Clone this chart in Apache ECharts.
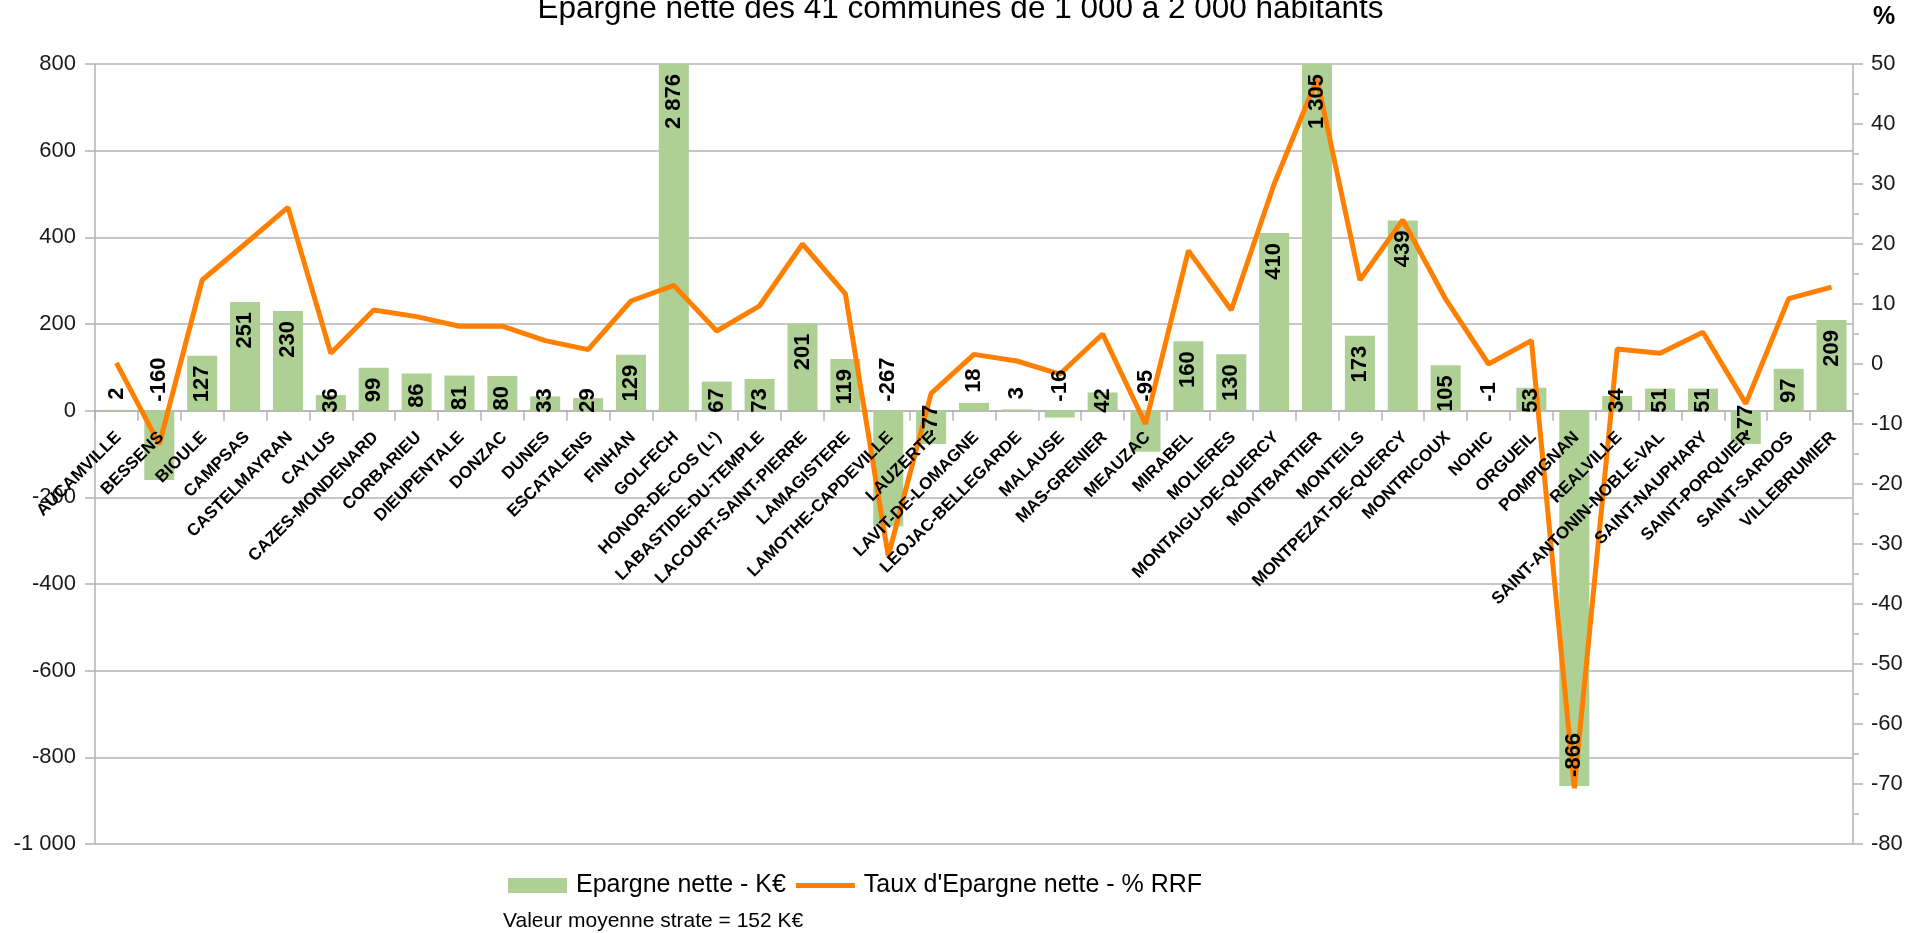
<!DOCTYPE html>
<html>
<head>
<meta charset="utf-8">
<title>Epargne nette des 41 communes</title>
<script src="https://cdn.jsdelivr.net/npm/echarts@6/dist/echarts.min.js"></script>
<style>
  html, body { margin: 0; padding: 0; background: #fff; }
  #chart { width: 1921px; height: 933px; }
</style>
</head>
<body>
<div id="chart"></div>
<script>
// communes (axe des catégories)
const communes = [
  'AUCAMVILLE', 'BESSENS', 'BIOULE', 'CAMPSAS', 'CASTELMAYRAN', 'CAYLUS',
  'CAZES-MONDENARD', 'CORBARIEU', 'DIEUPENTALE', 'DONZAC', 'DUNES', 'ESCATALENS',
  'FINHAN', 'GOLFECH', "HONOR-DE-COS (L')", 'LABASTIDE-DU-TEMPLE',
  'LACOURT-SAINT-PIERRE', 'LAMAGISTERE', 'LAMOTHE-CAPDEVILLE', 'LAUZERTE',
  'LAVIT-DE-LOMAGNE', 'LEOJAC-BELLEGARDE', 'MALAUSE', 'MAS-GRENIER', 'MEAUZAC',
  'MIRABEL', 'MOLIERES', 'MONTAIGU-DE-QUERCY', 'MONTBARTIER', 'MONTEILS',
  'MONTPEZAT-DE-QUERCY', 'MONTRICOUX', 'NOHIC', 'ORGUEIL', 'POMPIGNAN',
  'REALVILLE', 'SAINT-ANTONIN-NOBLE-VAL', 'SAINT-NAUPHARY', 'SAINT-PORQUIER',
  'SAINT-SARDOS', 'VILLEBRUMIER'
]

// Epargne nette - K€ (barres, axe gauche)
const epargneNette = [
  2, -160, 127, 251, 230, 36, 99, 86, 81, 80, 33, 29,
  129, 2876, 67, 73, 201, 119, -267, -77, 18, 3, -16, 42, -95,
  160, 130, 410, 1305, 173, 439, 105, -1, 53, -866,
  34, 51, 51, -77, 97, 209
]

// Taux d'Epargne nette - % RRF (courbe, axe droit)
const tauxEpargne = [
  0.2, -13.4, 14.0, 20.0, 26.1, 1.8, 9.0, 7.9, 6.3, 6.3, 3.9, 2.4,
  10.5, 13.1, 5.5, 9.7, 20.0, 11.7, -32.0, -4.9, 1.6, 0.5, -1.7, 5.0, -10.0,
  18.9, 9.0, 30.0, 47.5, 14.0, 24.0, 10.8, 0.0, 3.9, -70.7,
  2.5, 1.8, 5.3, -6.6, 10.9, 12.8
]

// bornes des axes
const leftAxis = { min: -1000, max: 800, step: 200 }
const rightAxis = { min: -80, max: 50, step: 10 }

const GRID = '#b3b3b3'
const BAR = '#afd095'
const LINE = '#ff8000'
const FONT = '"Liberation Sans", Arial, sans-serif'
const LABEL_FONT = 'bold 22px ' + FONT
const CAT_FONT = 'bold 17px ' + FONT

const ctx = document.createElement('canvas').getContext('2d')
function textLen(t) {
  ctx.font = LABEL_FONT
  return ctx.measureText(t).width
}

// 2876 -> "2 876"
function fmt(v) {
  const s = String(Math.abs(v)).replace(/\B(?=(\d{3})+(?!\d))/g, ' ')
  return v < 0 ? '-' + s : s
}

// étiquettes verticales des barres, placées comme dans le classeur
function renderBarLabel(params, api) {
  const i = api.value(0)
  const v = api.value(1)
  const shown = Math.max(leftAxis.min, Math.min(leftAxis.max, v))
  const [x, zero] = api.coord([i, 0])
  const end = api.coord([i, shown])[1]
  const text = fmt(v)
  const len = textLen(text)
  let y, align
  if (v >= 20) {
    y = Math.min(end + 10, zero + 2 - len); align = 'right'
  } else if (v >= 0) {
    y = end - 10; align = 'left'
  } else if (v <= -500) {
    y = end - 9; align = 'left'
  } else if (v <= -50 && v > -90) {
    y = zero - 6; align = 'right'
  } else {
    y = zero - 9; align = 'left'
  }
  return {
    type: 'text',
    x, y,
    rotation: Math.PI / 2,
    style: { text, font: LABEL_FONT, fill: '#000', align, verticalAlign: 'middle' }
  }
}

// noms des communes, inclinés à 45° sous la ligne du zéro
function renderCatLabel(params, api) {
  const i = api.value(0)
  const [x, zero] = api.coord([i, 0])
  return {
    type: 'text',
    x: x + 2, y: zero + 24,
    rotation: Math.PI / 4,
    style: { text: communes[i], font: CAT_FONT, fill: '#000', align: 'right', verticalAlign: 'middle' }
  }
}

// trait horizontal seul pour la légende de la courbe
const LINE_ICON = 'path://M0,0h0.01v0.01h-0.01z M0,5h59v5h-59z M0,14.99h0.01v0.01h-0.01z'

const chart = echarts.init(document.getElementById('chart'), null, { renderer: 'canvas' })

chart.setOption({
  animation: false,
  backgroundColor: '#fff',
  textStyle: { fontFamily: FONT },
  title: {
    text: 'Epargne nette des 41 communes de 1 000 à 2 000 habitants',
    left: 'center',
    top: -12,
    textStyle: { fontSize: 31.5, fontWeight: 'normal', color: '#000', fontFamily: FONT }
  },
  legend: {
    left: 503,
    top: 868,
    itemWidth: 59,
    itemHeight: 15,
    itemGap: 10,
    textStyle: { fontSize: 25, color: '#000', padding: [0, 0, 0, 4] },
    data: [
      { name: 'Epargne nette - K€', icon: 'rect' },
      { name: "Taux d'Epargne nette - % RRF", icon: LINE_ICON }
    ]
  },
  graphic: [
    {
      type: 'text', x: 1884, y: 17,
      style: { text: '%', font: 'bold 25px ' + FONT, fill: '#000', align: 'center', verticalAlign: 'middle' }
    },
    {
      type: 'text', x: 503, y: 921,
      style: { text: 'Valeur moyenne strate = 152 K€', font: '21px ' + FONT, fill: '#000', verticalAlign: 'middle' }
    }
  ],
  grid: { left: 95, right: 68, top: 64, bottom: 89, outerBoundsMode: 'none', containLabel: false },
  xAxis: {
    type: 'category',
    data: communes,
    axisLine: { onZero: true, lineStyle: { color: GRID, width: 1.5 } },
    axisTick: { show: true, interval: 0, length: 10, lineStyle: { color: GRID, width: 1.5 } },
    axisLabel: { show: false, interval: 0 },
    splitLine: { show: false }
  },
  yAxis: [
    {
      type: 'value',
      min: leftAxis.min, max: leftAxis.max, interval: leftAxis.step,
      axisLine: { show: true, lineStyle: { color: GRID, width: 1.5 } },
      axisTick: { show: true, length: 10, lineStyle: { color: GRID, width: 1.5 } },
      axisLabel: { fontSize: 22, color: '#1a1a1a', margin: 19, formatter: fmt },
      splitLine: { show: true, lineStyle: { color: GRID, width: 1.5 } }
    },
    {
      type: 'value',
      min: rightAxis.min, max: rightAxis.max, interval: rightAxis.step,
      position: 'right',
      axisLine: { show: true, lineStyle: { color: GRID, width: 1.5 } },
      axisTick: { show: true, length: 10, lineStyle: { color: GRID, width: 1.5 } },
      minorTick: { show: true, splitNumber: 2, length: 6, lineStyle: { color: GRID, width: 1.5 } },
      axisLabel: { fontSize: 22, color: '#1a1a1a', margin: 18 },
      splitLine: { show: false }
    }
  ],
  series: [
    {
      name: 'Epargne nette - K€',
      type: 'bar',
      yAxisIndex: 0,
      data: epargneNette,
      barCategoryGap: '30%',
      itemStyle: { color: BAR },
      z: 2
    },
    {
      name: "Taux d'Epargne nette - % RRF",
      type: 'line',
      yAxisIndex: 1,
      data: tauxEpargne,
      symbol: 'none',
      lineStyle: { color: LINE, width: 5 },
      itemStyle: { color: LINE },
      z: 3
    },
    {
      type: 'custom',
      xAxisIndex: 0,
      yAxisIndex: 0,
      data: epargneNette.map((v, i) => [i, v]),
      encode: { x: 0, y: 1 },
      renderItem: renderBarLabel,
      silent: true,
      clip: false,
      z: 5
    },
    {
      type: 'custom',
      xAxisIndex: 0,
      yAxisIndex: 0,
      data: communes.map((c, i) => [i, 0]),
      encode: { x: 0, y: 1 },
      renderItem: renderCatLabel,
      silent: true,
      clip: false,
      z: 6
    }
  ]
})
</script>
</body>
</html>
